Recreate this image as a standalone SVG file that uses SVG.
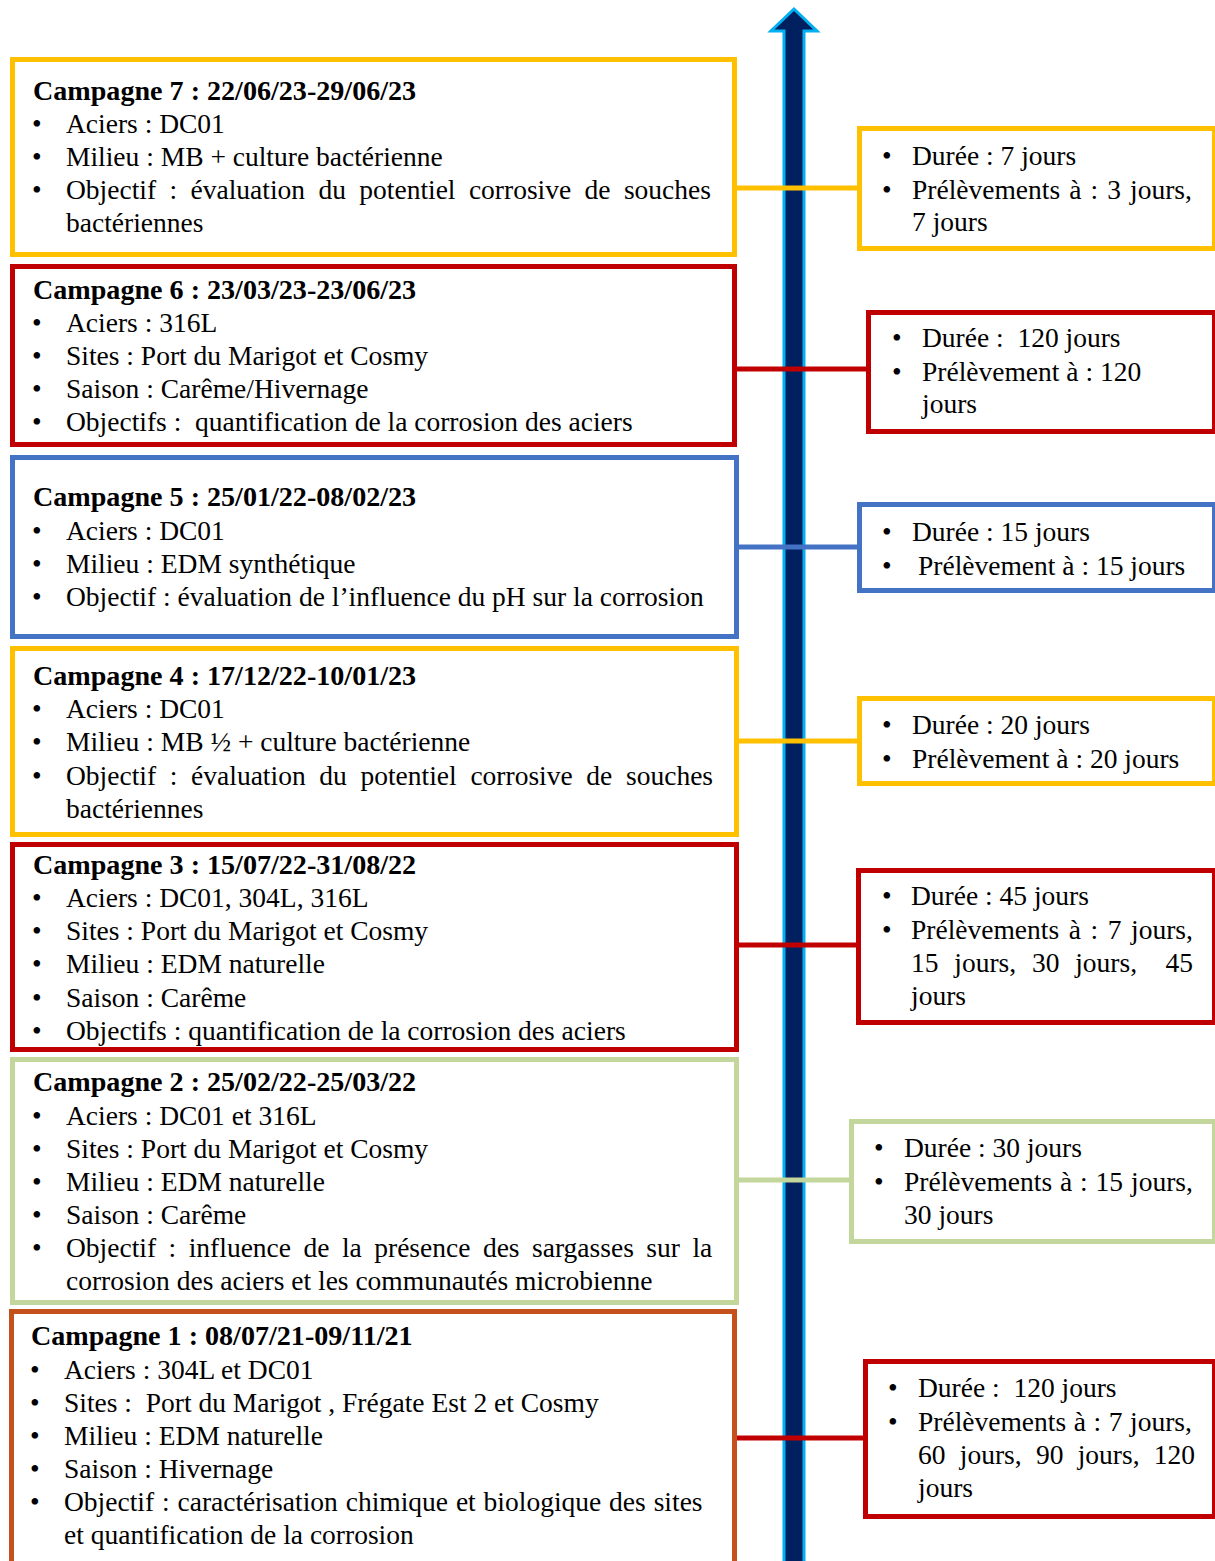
<svg xmlns="http://www.w3.org/2000/svg" width="1215" height="1561" viewBox="0 0 1215 1561">
<style>
  text { font-family: "Liberation Serif", "Times New Roman", serif; font-size: 27.5px; fill: #000; }
  .t { font-weight: bold; font-size: 28.1px; }
  .box { fill: #fff; stroke-width: 5; }
  .y { stroke: #FFC000; }
  .r { stroke: #C00000; }
  .b { stroke: #4472C4; }
  .g { stroke: #C3D69B; }
  .o { stroke: #C4501C; }
  .c { stroke-width: 5; fill: none; }
</style>
<rect width="1215" height="1561" fill="#fff"/>

<g id="timeline">
  <polygon points="784,1570 784,31 771,31 794,9 817,31 804,31 804,1570" fill="#002060" stroke="#00B0F0" stroke-width="3" stroke-linejoin="miter"/>
</g>

<g id="connectors">
  <line class="c y" x1="734" y1="188" x2="860" y2="188"/>
  <line class="c r" x1="734" y1="369" x2="869" y2="369"/>
  <line class="c b" x1="736" y1="547" x2="860" y2="547"/>
  <line class="c y" x1="736" y1="741" x2="860" y2="741"/>
  <line class="c r" x1="736" y1="945" x2="860" y2="945"/>
  <line class="c g" x1="736" y1="1180" x2="853" y2="1180"/>
  <line class="c r" x1="734" y1="1438" x2="867" y2="1438"/>
</g>

<g id="campagne7">
  <rect class="box y" x="12.5" y="59.5" width="722" height="195"/>
  <text class="t" x="33" y="100">Campagne 7 : 22/06/23-29/06/23</text>
  <text x="32" y="133">•</text><text x="66" y="133">Aciers : DC01</text>
  <text x="32" y="166">•</text><text x="66" y="166">Milieu : MB + culture bactérienne</text>
  <text x="32" y="199">•</text><text x="66" y="199" word-spacing="6.5">Objectif : évaluation du potentiel corrosive de souches</text>
  <text x="66" y="232">bactériennes</text>
</g>
<g id="duree7">
  <rect class="box y" x="859.5" y="128.5" width="355" height="120"/>
  <text x="882" y="165">•</text><text x="912" y="165">Durée : 7 jours</text>
  <text x="882" y="199">•</text><text x="912" y="199" word-spacing="2.2">Prélèvements à : 3 jours,</text>
  <text x="912" y="231">7 jours</text>
</g>

<g id="campagne6">
  <rect class="box r" x="12.5" y="266.5" width="722" height="178"/>
  <text class="t" x="33" y="299">Campagne 6 : 23/03/23-23/06/23</text>
  <text x="32" y="332">•</text><text x="66" y="332">Aciers : 316L</text>
  <text x="32" y="365">•</text><text x="66" y="365">Sites : Port du Marigot et Cosmy</text>
  <text x="32" y="398">•</text><text x="66" y="398">Saison : Carême/Hivernage</text>
  <text x="32" y="431">•</text><text x="66" y="431" xml:space="preserve">Objectifs :  quantification de la corrosion des aciers</text>
</g>
<g id="duree6">
  <rect class="box r" x="868.5" y="312.5" width="346" height="119"/>
  <text x="892" y="347">•</text><text x="922" y="347" xml:space="preserve">Durée :  120 jours</text>
  <text x="892" y="381">•</text><text x="922" y="381">Prélèvement à : 120</text>
  <text x="922" y="413">jours</text>
</g>

<g id="campagne5">
  <rect class="box b" x="12.5" y="457.5" width="724" height="179"/>
  <text class="t" x="33" y="506">Campagne 5 : 25/01/22-08/02/23</text>
  <text x="32" y="540">•</text><text x="66" y="540">Aciers : DC01</text>
  <text x="32" y="573">•</text><text x="66" y="573">Milieu : EDM synthétique</text>
  <text x="32" y="606">•</text><text x="66" y="606">Objectif : évaluation de l’influence du pH sur la corrosion</text>
</g>
<g id="duree5">
  <rect class="box b" x="859.5" y="504.5" width="355" height="86"/>
  <text x="882" y="541">•</text><text x="912" y="541">Durée : 15 jours</text>
  <text x="882" y="575">•</text><text x="918" y="575">Prélèvement à : 15 jours</text>
</g>

<g id="campagne4">
  <rect class="box y" x="12.5" y="648.5" width="724" height="186"/>
  <text class="t" x="33" y="685">Campagne 4 : 17/12/22-10/01/23</text>
  <text x="32" y="718">•</text><text x="66" y="718">Aciers : DC01</text>
  <text x="32" y="751">•</text><text x="66" y="751">Milieu : MB ½ + culture bactérienne</text>
  <text x="32" y="785">•</text><text x="66" y="785" word-spacing="6.8">Objectif : évaluation du potentiel corrosive de souches</text>
  <text x="66" y="818">bactériennes</text>
</g>
<g id="duree4">
  <rect class="box y" x="859.5" y="698.5" width="355" height="85"/>
  <text x="882" y="734">•</text><text x="912" y="734">Durée : 20 jours</text>
  <text x="882" y="768">•</text><text x="912" y="768">Prélèvement à : 20 jours</text>
</g>

<g id="campagne3">
  <rect class="box r" x="12.5" y="844.5" width="724" height="205"/>
  <text class="t" x="33" y="874">Campagne 3 : 15/07/22-31/08/22</text>
  <text x="32" y="907">•</text><text x="66" y="907">Aciers : DC01, 304L, 316L</text>
  <text x="32" y="940">•</text><text x="66" y="940">Sites : Port du Marigot et Cosmy</text>
  <text x="32" y="973">•</text><text x="66" y="973">Milieu : EDM naturelle</text>
  <text x="32" y="1007">•</text><text x="66" y="1007">Saison : Carême</text>
  <text x="32" y="1040">•</text><text x="66" y="1040">Objectifs : quantification de la corrosion des aciers</text>
</g>
<g id="duree3">
  <rect class="box r" x="858.5" y="870.5" width="356" height="152"/>
  <text x="882" y="905">•</text><text x="911" y="905">Durée : 45 jours</text>
  <text x="882" y="939">•</text><text x="911" y="939" word-spacing="2.7">Prélèvements à : 7 jours,</text>
  <text x="911" y="972" word-spacing="8.9">15 jours, 30 jours,</text><text x="1193" y="972" text-anchor="end">45</text>
  <text x="911" y="1005">jours</text>
</g>

<g id="campagne2">
  <rect class="box g" x="12.5" y="1059.5" width="724" height="243"/>
  <text class="t" x="33" y="1091">Campagne 2 : 25/02/22-25/03/22</text>
  <text x="32" y="1125">•</text><text x="66" y="1125">Aciers : DC01 et 316L</text>
  <text x="32" y="1158">•</text><text x="66" y="1158">Sites : Port du Marigot et Cosmy</text>
  <text x="32" y="1191">•</text><text x="66" y="1191">Milieu : EDM naturelle</text>
  <text x="32" y="1224">•</text><text x="66" y="1224">Saison : Carême</text>
  <text x="32" y="1257">•</text><text x="66" y="1257" word-spacing="5.6">Objectif : influence de la présence des sargasses sur la</text>
  <text x="66" y="1290">corrosion des aciers et les communautés microbienne</text>
</g>
<g id="duree2">
  <rect class="box g" x="851.5" y="1121.5" width="363" height="120"/>
  <text x="874" y="1157">•</text><text x="904" y="1157">Durée : 30 jours</text>
  <text x="874" y="1191">•</text><text x="904" y="1191" word-spacing="1">Prélèvements à : 15 jours,</text>
  <text x="904" y="1224">30 jours</text>
</g>

<g id="campagne1">
  <rect class="box o" x="11.5" y="1311.5" width="723" height="262"/>
  <text class="t" x="31" y="1345">Campagne 1 : 08/07/21-09/11/21</text>
  <text x="30" y="1379">•</text><text x="64" y="1379">Aciers : 304L et DC01</text>
  <text x="30" y="1412">•</text><text x="64" y="1412" xml:space="preserve">Sites :  Port du Marigot , Frégate Est 2 et Cosmy</text>
  <text x="30" y="1445">•</text><text x="64" y="1445">Milieu : EDM naturelle</text>
  <text x="30" y="1478">•</text><text x="64" y="1478">Saison : Hivernage</text>
  <text x="30" y="1511">•</text><text x="64" y="1511" word-spacing="1">Objectif : caractérisation chimique et biologique des sites</text>
  <text x="64" y="1544">et quantification de la corrosion</text>
</g>
<g id="duree1">
  <rect class="box r" x="865.5" y="1361.5" width="349" height="155"/>
  <text x="888" y="1397">•</text><text x="918" y="1397" xml:space="preserve">Durée :  120 jours</text>
  <text x="888" y="1431">•</text><text x="918" y="1431" word-spacing="0.7">Prélèvements à : 7 jours,</text>
  <text x="918" y="1464" word-spacing="7.4">60 jours, 90 jours, 120</text>
  <text x="918" y="1497">jours</text>
</g>
</svg>
